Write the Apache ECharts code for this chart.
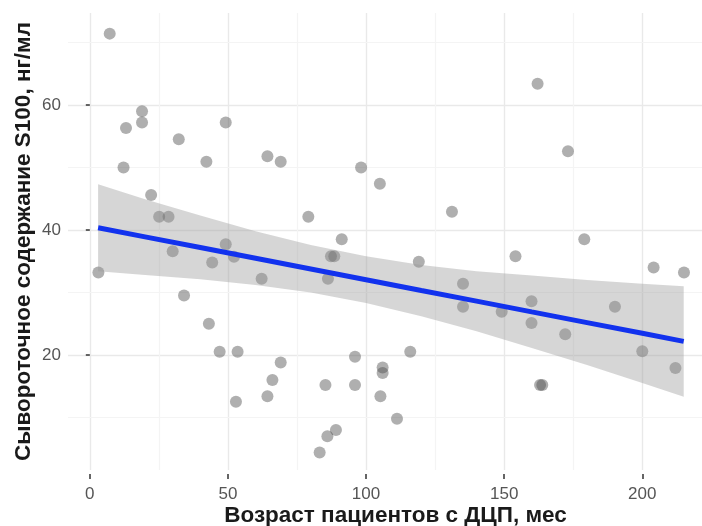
<!DOCTYPE html>
<html>
<head>
<meta charset="utf-8">
<script src="https://cdn.jsdelivr.net/npm/echarts@6/dist/echarts.min.js"></script>
<style>html,body{margin:0;padding:0;background:#fff;}#chart{width:702px;height:526px;}</style>
</head>
<body>
<div id="chart"></div>
<script>
// Patient age (months) and serum S100 (ng/ml)
const ages = [3.1, 7.2, 12.2, 13.1, 18.9, 18.9, 22.2, 25.1, 28.5, 30.0, 32.2, 34.1, 42.2, 43.1, 44.3, 47.0,
  49.2, 49.2, 52.2, 53.5, 52.9, 62.2, 64.3, 64.3, 66.1, 69.1, 69.1, 79.1, 83.2, 85.3, 86.0, 86.2,
  87.3, 88.5, 89.1, 91.2, 96.0, 96.0, 98.2, 105.0, 105.2, 106.0, 106.0, 111.2, 116.0, 119.1, 131.1, 135.1,
  135.1, 149.1, 154.1, 159.9, 159.9, 162.1, 163.0, 163.8, 172.1, 173.1, 179.0, 190.1, 200.0, 204.1, 212.0, 215.1];
const s100 = [33.2, 71.4, 50.0, 56.3, 59.0, 57.2, 45.6, 42.1, 42.1, 36.6, 54.5, 29.5, 50.9, 25.0, 34.8, 20.5,
  57.2, 37.7, 35.7, 20.5, 12.5, 32.2, 51.8, 13.4, 16.0, 50.9, 18.8, 42.1, 4.4, 15.2, 7.0, 32.2,
  35.8, 35.8, 8.0, 38.5, 19.7, 15.2, 50.0, 47.4, 13.4, 18.0, 17.1, 9.8, 20.5, 34.9, 42.9, 31.4,
  27.7, 26.9, 35.8, 28.6, 25.1, 63.4, 15.2, 15.2, 23.3, 52.6, 38.5, 27.7, 20.6, 34.0, 17.9, 33.2];

// Linear fit and its confidence band
const fitX = [3, 20, 40, 60, 80, 100, 120, 140, 160, 180, 200, 215];
const fitY = [40.35, 38.89, 37.18, 35.47, 33.75, 32.04, 30.32, 28.61, 26.89, 25.18, 23.47, 22.18];
const bandUpper = [47.3, 44.9, 42.3, 39.8, 37.6, 35.8, 34.4, 33.4, 32.7, 32.0, 31.4, 31.0];
const bandLower = [33.4, 32.8, 32.1, 31.2, 30.0, 28.3, 26.2, 23.8, 21.1, 18.4, 15.5, 13.3];

// Tick values
const xTicks = [0, 50, 100, 150, 200];
const yTicks = [20, 40, 60];
const xMinor = [25, 75, 125, 175];
const yMinor = [10, 30, 50, 70];

const chart = echarts.init(document.getElementById('chart'), null, {renderer: 'canvas'});
const tickFont = {fontFamily: 'Liberation Sans', fontSize: 17, color: '#555555'};
const titleFont = {fontFamily: 'Liberation Sans', fontSize: 22.5, fontWeight: 'bold', color: '#1a1a1a'};

chart.setOption({
  animation: false,
  backgroundColor: '#ffffff',
  grid: {left: 68, right: -11, top: 13, bottom: 56, containLabel: false, outerBoundsMode: 'none'},
  xAxis: {
    type: 'value', min: -7.9, max: 225.6, offset: 4,
    name: 'Возраст пациентов с ДЦП, мес', nameLocation: 'middle', nameGap: 30, nameMoveOverlap: false,
    nameTextStyle: Object.assign({padding: [0, 0, 0, 10]}, titleFont),
    axisLine: {show: false},
    axisTick: {show: true, length: 5, customValues: xTicks, lineStyle: {color: '#333333', width: 1.5}},
    axisLabel: Object.assign({customValues: xTicks, margin: 11.5}, tickFont),
    splitLine: {show: true, lineStyle: {color: '#e9e9e9', width: 1.4}}
  },
  yAxis: {
    type: 'value', min: 1.6, max: 74.7,
    name: 'Сывороточное содержание S100, нг/мл', nameLocation: 'middle', nameGap: 33, nameMoveOverlap: false,
    nameTextStyle: titleFont,
    axisLine: {show: false},
    axisTick: {show: true, length: 4, customValues: yTicks, lineStyle: {color: '#333333', width: 1.5}},
    axisLabel: Object.assign({customValues: yTicks, margin: 7}, tickFont),
    splitLine: {show: true, lineStyle: {color: '#e9e9e9', width: 1.4}}
  },
  series: [
    {
      type: 'line', data: [], z: 0, silent: true,
      markLine: {
        silent: true, z: 0, symbol: ['none', 'none'], animation: false,
        label: {show: false},
        lineStyle: {color: '#f4f4f4', width: 1.2, type: 'solid'},
        emphasis: {disabled: true},
        data: xMinor.map(v => ({xAxis: v})).concat(yMinor.map(v => ({yAxis: v})))
      }
    },
    {
      type: 'scatter', z: 2,
      data: ages.map((a, i) => [a, s100[i]]),
      symbolSize: 12,
      itemStyle: {color: 'rgba(77,77,77,0.56)'}
    },
    {
      type: 'custom', z: 3, silent: true,
      data: fitX.map((x, i) => [x, bandLower[i], bandUpper[i]]),
      encode: {x: 0, y: [1, 2]},
      renderItem: function (params, api) {
        if (params.dataIndex !== 0) return null;
        const pts = [];
        for (let i = 0; i < fitX.length; i++) pts.push(api.coord([fitX[i], bandUpper[i]]));
        for (let i = fitX.length - 1; i >= 0; i--) pts.push(api.coord([fitX[i], bandLower[i]]));
        return {type: 'polygon', shape: {points: pts}, style: {fill: 'rgba(153,153,153,0.4)'}};
      }
    },
    {
      type: 'line', z: 4, silent: true,
      data: fitX.map((x, i) => [x, fitY[i]]),
      showSymbol: false, smooth: false,
      lineStyle: {color: '#1232ee', width: 5}
    }
  ]
});
</script>
</body>
</html>
